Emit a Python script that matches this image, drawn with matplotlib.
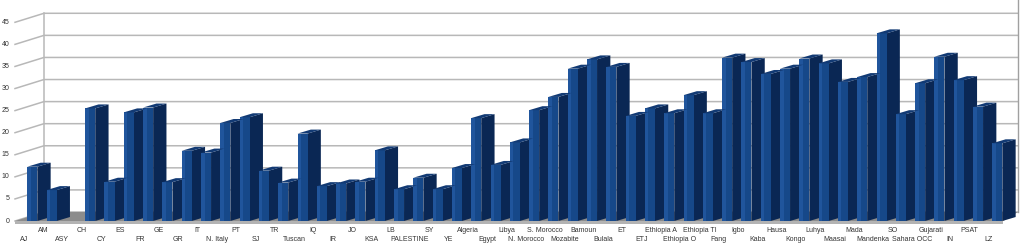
import matplotlib
matplotlib.use("Agg")
from matplotlib import pyplot as plt
from matplotlib.patches import Polygon

labels = ["AJ", "AM", "ASY", "CH", "CY", "ES", "FR", "GE", "GR", "IT",
          "N. Italy", "PT", "SJ", "TR", "Tuscan", "IQ", "IR", "JO", "KSA", "LB",
          "PALESTINE", "SY", "YE", "Algeria", "Egypt", "Libya", "N. Morocco",
          "S. Morocco", "Mozabite", "Bamoun", "Bulala", "ET", "ETJ", "Ethiopia A",
          "Ethiopia O", "Ethiopia TI", "Fang", "Igbo", "Kaba", "Hausa", "Kongo",
          "Luhya", "Maasai", "Mada", "Mandenka", "SO", "Sahara OCC", "Gujarati",
          "IN", "PSAT", "LZ"]
values = [12.3, 7.0, 0, 25.5, 8.9, 24.6, 25.7, 8.8, 15.9, 15.5,
          22.2, 23.5, 11.4, 8.7, 19.8, 7.9, 8.5, 8.9, 16.0, 7.2,
          9.8, 7.2, 12.0, 23.3, 12.7, 17.8, 25.1,
          28.1, 34.5, 36.6, 34.9, 23.8, 25.5, 24.4,
          28.5, 24.4, 37.0, 36.0, 33.3, 34.5, 36.8,
          35.7, 31.5, 32.6, 42.5, 24.2, 31.2, 37.2,
          31.9, 25.9, 17.6]
y_ticks = [0, 5, 10, 15, 20, 25, 30, 35, 40, 45]

plt.rcParams['font.family'] = ['Liberation Sans', 'DejaVu Sans']

fig = plt.figure(figsize=(10.21, 2.47), dpi=100)
ax = fig.add_axes([0, 0, 1, 1])
ax.set_xlim(-1.4145, 51.487)
ax.set_ylim(-5.888, 50.05)
ax.axis('off')

# fake 3d geometry (in data units)
wall_dx, wall_dy = 1.5, 2.04
bar_w = 0.52
bar_dx, bar_dy = 0.69, 0.9
left_x = -0.637
right_x = 51.33

front_c = '#164889'
light_c = '#20559c'
side_c = '#0a2754'
top_c = '#123a74'
grid_c = '#b8b8b8'
txt_c = '#333333'

# walls + grid
for v in y_ticks:
    ax.plot([left_x, left_x + wall_dx, right_x], [v, v + wall_dy, v + wall_dy],
            color=grid_c, lw=1.1, zorder=1)
    ax.text(-0.92, v, str(v), ha='right', va='center', fontsize=5, color=txt_c)
ax.plot([left_x + wall_dx] * 2, [wall_dy, y_ticks[-1] + wall_dy], color=grid_c, lw=1.1, zorder=1)
ax.plot([right_x] * 2, [wall_dy, 50.05], color='#a0a0a0', lw=1.0, zorder=1)

# floor
n = len(values)
floor_r = n - 1 + bar_w + 0.05
ax.add_patch(Polygon([(left_x, 0), (floor_r, 0), (right_x, wall_dy),
                      (left_x + wall_dx, wall_dy)], closed=True,
                     fc='#8c8c8c', ec='none', zorder=2))
ax.fill([left_x, floor_r, floor_r, left_x], [0, 0, -0.6, -0.6],
        color='#b3b3b3', lw=0, zorder=2)

# bars
x = list(range(n))
ax.bar(x, values, width=bar_w, align='edge', color=front_c, lw=0, zorder=4)
ax.bar(x, values, width=bar_w * 0.35, align='edge', color=light_c, lw=0, zorder=4)
for i, v in enumerate(values):
    if v <= 0:
        continue
    ax.fill([i + bar_w, i + bar_w + bar_dx, i + bar_w + bar_dx, i + bar_w],
            [0, bar_dy, v + bar_dy, v], color=side_c, lw=0, zorder=3)
    ax.fill([i, i + bar_w, i + bar_w + bar_dx, i + bar_dx],
            [v, v, v + bar_dy, v + bar_dy], color=top_c, lw=0, zorder=4 + i * 0.001)

# staggered category labels
for i, lab in enumerate(labels):
    yy = -2.04 if i % 2 else -4.08
    ax.text(i - 0.18, yy, lab, ha='center', va='center', fontsize=5, color=txt_c)

fig.savefig('out.png', dpi=100)
